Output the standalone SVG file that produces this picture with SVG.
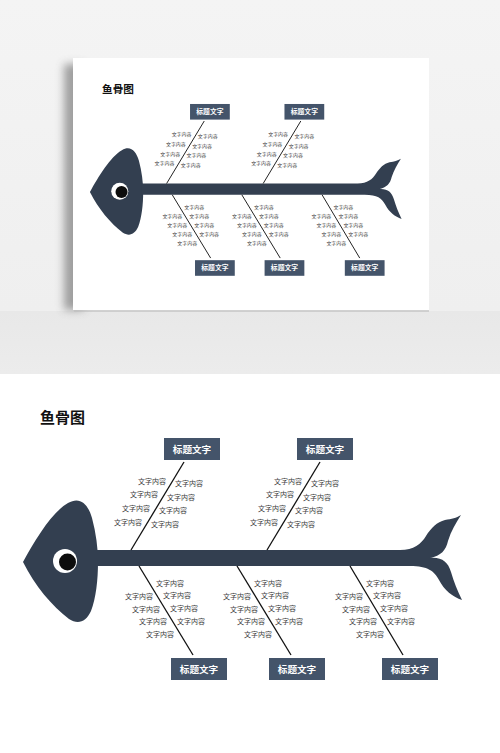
<svg xmlns="http://www.w3.org/2000/svg" xmlns:xlink="http://www.w3.org/1999/xlink" width="500" height="753" viewBox="0 0 500 753">
<defs>
<style>
.lbl{font-family:"Noto Sans CJK SC","Noto Sans",sans-serif;font-size:7px;fill:#3c3c3c}
.l{text-anchor:end}
.box rect{fill:#44546a}
.box text{font-family:"Noto Sans CJK SC","Noto Sans",sans-serif;font-size:9.6px;font-weight:bold;fill:#ffffff;text-anchor:middle}
.bone{stroke:#111;stroke-width:1.3;fill:none}
.fish{fill:#333f50}
</style>
<linearGradient id="wall" x1="0" y1="0" x2="0" y2="1">
<stop offset="0" stop-color="#f4f4f4"/>
<stop offset="1" stop-color="#efefef"/>
</linearGradient>
<linearGradient id="floor" x1="0" y1="0" x2="0" y2="1">
<stop offset="0" stop-color="#e8e8e8"/>
<stop offset="1" stop-color="#ececec"/>
</linearGradient>
<filter id="blur" x="-50%" y="-10%" width="200%" height="120%">
<feGaussianBlur stdDeviation="4"/>
</filter>
</defs>
<rect x="0" y="0" width="500" height="311" fill="url(#wall)"/>
<rect x="0" y="311" width="500" height="63" fill="url(#floor)"/>
<rect x="0" y="374" width="500" height="379" fill="#ffffff"/>
<g id="card">
<rect x="64" y="64" width="20" height="246" fill="#8a8a8a" filter="url(#blur)" opacity="0.8"/>
<rect x="74" y="308" width="355" height="4" fill="#bdbdbd" opacity="0.6"/>
<rect x="73" y="58" width="356" height="252" fill="#ffffff"/>
</g>
<g id="page">
<g id="title"><text x="40" y="423" font-family="'Noto Sans CJK SC','Noto Sans',sans-serif" font-size="15" font-weight="bold" fill="#111">鱼骨图</text></g>
<g id="fish">
<path class="fish" d="M23 562 C35 540 52 512 68 503 C80 496 88 504 92 518 C96 533 98 548 98 562 C98 580 96 598 91 611 C86 622 78 625 69 619 C52 606 35 586 23 562 Z"/>
<path class="fish" d="M96 550 L400 550 C414 550 421 544 426 536 C431 528 437 522 445 520 C452 519 456 518 461 515 C456 523 451 531 448 541 C446 550 441 556 430 558 C442 557 448 562 451 572 C454 582 457 590 462 600 C453 597 444 590 439 580 C434 571 428 566 410 566 L96 566 Z"/>
<circle cx="65" cy="561" r="12" fill="#ffffff"/>
<circle cx="67.5" cy="562" r="8.5" fill="#0d0d0d"/>
</g>
<g id="connectors">
<line class="bone" x1="184" y1="462" x2="131" y2="550"/>
<line class="bone" x1="320" y1="462" x2="267" y2="550"/>
<line class="bone" x1="139" y1="566" x2="193" y2="655"/>
<line class="bone" x1="237" y1="566" x2="291" y2="655"/>
<line class="bone" x1="350" y1="566" x2="403" y2="655"/>
</g>
<g id="node-top1" class="box"><rect x="164" y="438" width="56" height="22"/><text x="192" y="452.5">标题文字</text></g>
<g id="node-top2" class="box"><rect x="297" y="438" width="56" height="22"/><text x="325" y="452.5">标题文字</text></g>
<g id="node-bot1" class="box"><rect x="171" y="658" width="56" height="22"/><text x="199" y="672.5">标题文字</text></g>
<g id="node-bot2" class="box"><rect x="269" y="658" width="56" height="22"/><text x="297" y="672.5">标题文字</text></g>
<g id="node-bot3" class="box"><rect x="382" y="658" width="56" height="22"/><text x="410" y="672.5">标题文字</text></g>
<g id="labels-top1">
<text class="lbl l" x="166" y="483.5">文字内容</text>
<text class="lbl l" x="158" y="497.2">文字内容</text>
<text class="lbl l" x="150" y="510.8">文字内容</text>
<text class="lbl l" x="142" y="524.5">文字内容</text>
<text class="lbl" x="175" y="486">文字内容</text>
<text class="lbl" x="167" y="499.5">文字内容</text>
<text class="lbl" x="159" y="513">文字内容</text>
<text class="lbl" x="151" y="526.5">文字内容</text>
</g>
<g id="labels-top2">
<text class="lbl l" x="302" y="483.5">文字内容</text>
<text class="lbl l" x="294" y="497.2">文字内容</text>
<text class="lbl l" x="286" y="510.8">文字内容</text>
<text class="lbl l" x="278" y="524.5">文字内容</text>
<text class="lbl" x="311" y="486">文字内容</text>
<text class="lbl" x="303" y="499.5">文字内容</text>
<text class="lbl" x="295" y="513">文字内容</text>
<text class="lbl" x="287" y="526.5">文字内容</text>
</g>
<g id="labels-bot1">
<text class="lbl" x="156" y="585.5">文字内容</text>
<text class="lbl" x="163" y="598.2">文字内容</text>
<text class="lbl" x="170" y="610.8">文字内容</text>
<text class="lbl" x="177" y="623.5">文字内容</text>
<text class="lbl l" x="153" y="599">文字内容</text>
<text class="lbl l" x="160" y="611.5">文字内容</text>
<text class="lbl l" x="167" y="624">文字内容</text>
<text class="lbl l" x="174" y="636.5">文字内容</text>
</g>
<g id="labels-bot2">
<text class="lbl" x="254" y="585.5">文字内容</text>
<text class="lbl" x="261" y="598.2">文字内容</text>
<text class="lbl" x="268" y="610.8">文字内容</text>
<text class="lbl" x="275" y="623.5">文字内容</text>
<text class="lbl l" x="251" y="599">文字内容</text>
<text class="lbl l" x="258" y="611.5">文字内容</text>
<text class="lbl l" x="265" y="624">文字内容</text>
<text class="lbl l" x="272" y="636.5">文字内容</text>
</g>
<g id="labels-bot3">
<text class="lbl" x="366" y="585.5">文字内容</text>
<text class="lbl" x="373" y="598.2">文字内容</text>
<text class="lbl" x="380" y="610.8">文字内容</text>
<text class="lbl" x="387" y="623.5">文字内容</text>
<text class="lbl l" x="363" y="599">文字内容</text>
<text class="lbl l" x="370" y="611.5">文字内容</text>
<text class="lbl l" x="377" y="624">文字内容</text>
<text class="lbl l" x="384" y="636.5">文字内容</text>
</g>
</g>
<use href="#page" xlink:href="#page" transform="translate(73.6 -207) scale(0.71)"/>
</svg>
